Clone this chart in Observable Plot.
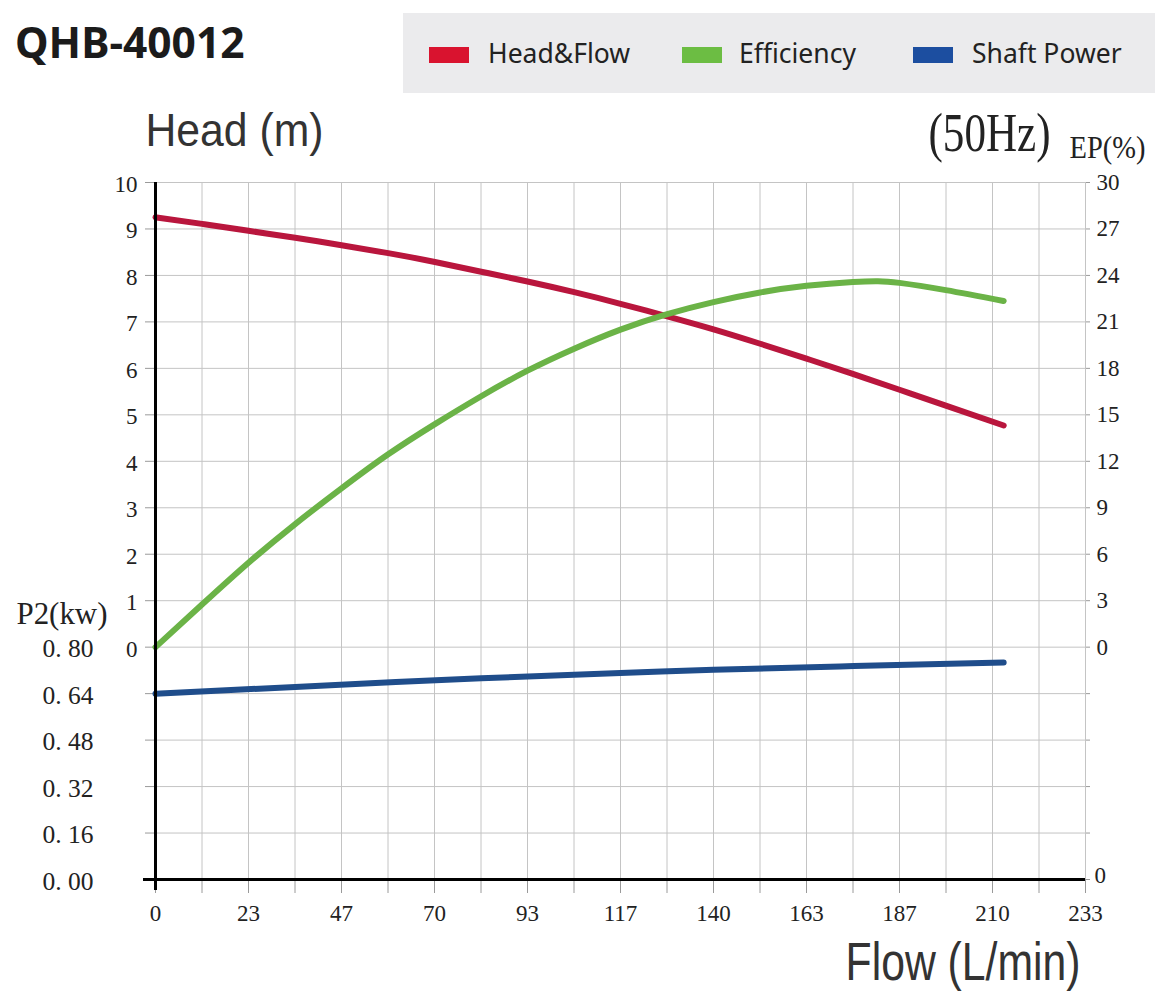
<!DOCTYPE html>
<html>
<head>
<meta charset="utf-8">
<script src="https://cdn.jsdelivr.net/npm/d3@7"></script>
<script src="https://cdn.jsdelivr.net/npm/@observablehq/plot@0.6"></script>
<style>
  html, body { margin: 0; padding: 0; background: #fff; width: 1161px; height: 1000px; overflow: hidden; }
  #header { position: relative; width: 1161px; height: 100px; }
  #title { position: absolute; left: 15px; top: 21px; font: 700 42.5px/42px "Noto Sans", sans-serif; color: #1b1b1b; white-space: nowrap; }
  #legend { position: absolute; left: 403px; top: 13px; width: 752px; height: 80px; background: #ebebed; }
  .sw { position: absolute; top: 34px; width: 40px; height: 16px; }
  .lt { position: absolute; top: 27px; font: 400 26.5px/26.5px "Noto Sans", sans-serif; color: #222; white-space: nowrap; }
  svg { display: block; }
</style>
</head>
<body>
<div id="header"><div id="title"></div><div id="legend"></div></div>
<div id="chart"></div>
<script>
// ---------- data ----------
const chartTitle = "QHB-40012";
const seriesNames = ["Head&Flow", "Efficiency", "Shaft Power"];

// Head & Flow curve (Flow L/min, Head m)
const headFlow = [0, 11.65, 23.3, 35, 46.6, 58.3, 70, 81.6, 93.2, 104.9, 116.5, 128.2, 139.8, 151.5, 163.1, 174.7, 186.4, 198, 212.5];
const headValues = [9.25, 9.11, 8.96, 8.81, 8.65, 8.48, 8.29, 8.08, 7.87, 7.64, 7.39, 7.12, 6.84, 6.53, 6.21, 5.88, 5.54, 5.2, 4.77];

// Efficiency curve (Flow L/min, EP %)
const effFlow = [0, 11.65, 23.3, 35, 46.6, 58.3, 70, 81.6, 93.2, 104.9, 116.5, 128.2, 139.8, 151.5, 163.1, 174.7, 181, 186.4, 198, 212.5];
const effValues = [0, 2.75, 5.45, 7.95, 10.25, 12.45, 14.4, 16.2, 17.85, 19.27, 20.5, 21.5, 22.28, 22.9, 23.33, 23.58, 23.63, 23.52, 23.05, 22.35];

// Shaft power curve (Flow L/min, P2 kW)
const powFlow = [0, 35, 81.6, 116.5, 139.8, 175, 212.5];
const powValues = [0.64, 0.663, 0.693, 0.711, 0.722, 0.735, 0.747];

// axes / tick labels
const flowTickPos = [0, 23.3, 46.6, 69.9, 93.2, 116.5, 139.8, 163.1, 186.4, 209.7, 233];
const flowTickLabels = ["0", "23", "47", "70", "93", "117", "140", "163", "187", "210", "233"];
const headTicks = [0, 1, 2, 3, 4, 5, 6, 7, 8, 9, 10];
const epTicks = [0, 3, 6, 9, 12, 15, 18, 21, 24, 27, 30];
const kwTicks = [0.00, 0.16, 0.32, 0.48, 0.64, 0.80];
const kwBaseRightLabel = [0];

// ---------- styles ----------
const COLORS = { head: "#b9163d", eff: "#6bb347", pow: "#1f4d8b" };
const LEGEND_COLORS = ["#d9132f", "#6cbd43", "#1c4ea0"];
const GRID = "#c4c4c4";
const SERIF = "'Liberation Serif', 'Times New Roman', serif";
const SANS = "'Liberation Sans', Arial, sans-serif";

// ---------- header ----------
document.getElementById("title").textContent = chartTitle;
const legend = d3.select("#legend");
const swLeft = [26, 279, 510];
const txtLeft = [85, 336, 569];
seriesNames.forEach((name, i) => {
  legend.append("div").attr("class", "sw").style("left", swLeft[i] + "px").style("background", LEGEND_COLORS[i]);
  legend.append("div").attr("class", "lt").style("left", txtLeft[i] + "px").text(name);
});

// ---------- scale mapping into a shared vertical frame (head metres) ----------
const epToY = v => v / 3;             // 30 % <-> 10 m
const kwToY = v => (v - 0.8) / 0.16;  // 0.80 kW <-> 0 m, 0.00 kW <-> -5

const headRows = headFlow.map((f, i) => ({ flow: f, head: headValues[i] }));
const effRows = effFlow.map((f, i) => ({ flow: f, ep: effValues[i] }));
const powRows = powFlow.map((f, i) => ({ flow: f, kw: powValues[i] }));

const xGrid = d3.range(0, 21).map(i => i * 233 / 20);
const yGrid = d3.range(-5, 11);

const chart = Plot.plot({
  width: 1161,
  height: 900,
  marginLeft: 155,
  marginRight: 76,
  marginTop: 82,
  marginBottom: 121,
  x: { domain: [0, 233], label: null },
  y: { domain: [-5, 10], label: null },
  style: { background: "white", overflow: "visible", color: "#222" },
  marks: [
    Plot.ruleX(xGrid, { stroke: GRID, strokeWidth: 1 }),
    Plot.ruleY(yGrid, { stroke: GRID, strokeWidth: 1 }),
    Plot.axisY(yGrid, { anchor: "left", tickSize: 10, tickFormat: () => "", stroke: "#9a9a9a", label: null }),
    Plot.axisY(yGrid, { anchor: "right", tickSize: 4, tickFormat: () => "", stroke: "#9a9a9a", label: null }),
    Plot.axisX(xGrid, { anchor: "bottom", tickSize: 14, tickFormat: () => "", stroke: "#9a9a9a", label: null }),

    // tick labels
    Plot.text(headTicks, { y: d => d, frameAnchor: "left", dx: -18, dy: 2, textAnchor: "end", text: d => String(d), fontSize: 23, fontFamily: SERIF, fill: "#222" }),
    Plot.text(kwTicks, { y: kwToY, frameAnchor: "left", dx: -62, dy: 2, textAnchor: "end", text: d => d.toFixed(2).replace(".", ". "), fontSize: 25.5, fontFamily: SERIF, fill: "#222" }),
    Plot.text(epTicks, { y: epToY, frameAnchor: "right", dx: 11, dy: 0, textAnchor: "start", text: d => String(d), fontSize: 23, fontFamily: SERIF, fill: "#222" }),
    Plot.text(kwBaseRightLabel, { y: kwToY, frameAnchor: "right", dx: 9, dy: -4, textAnchor: "start", text: d => String(d), fontSize: 23, fontFamily: SERIF, fill: "#222" }),
    Plot.text(flowTickLabels, { x: (d, i) => flowTickPos[i], frameAnchor: "bottom", dy: 25, lineAnchor: "top", text: d => d, fontSize: 23, fontFamily: SERIF, fill: "#222" }),

    // axis titles
    Plot.text(["Head (m)"], { frameAnchor: "top-left", dx: -10, dy: -37, textAnchor: "start", lineAnchor: "bottom", text: d => d, fontSize: 47, fontFamily: SANS, fill: "#333" }),
    Plot.text(["(50Hz)"], { frameAnchor: "top-right", dx: -35, dy: -32, textAnchor: "end", lineAnchor: "bottom", text: d => d, fontSize: 54, fontFamily: SERIF, fill: "#222" }),
    Plot.text(["EP(%)"], { frameAnchor: "top-right", dx: -16, dy: -25, textAnchor: "start", lineAnchor: "bottom", text: d => d, fontSize: 31, fontFamily: SERIF, fill: "#222" }),
    Plot.text(["P2(kw)"], { frameAnchor: "left", dx: -139, dy: 92.5, textAnchor: "start", lineAnchor: "bottom", text: d => d, fontSize: 31, fontFamily: SERIF, fill: "#222" }),
    Plot.text(["Flow (L/min)"], { frameAnchor: "bottom-right", dx: -5, dy: 100, textAnchor: "end", lineAnchor: "bottom", text: d => d, fontSize: 53, fontFamily: SANS, fill: "#333" }),

    // curves
    Plot.line(headRows, { x: "flow", y: "head", stroke: COLORS.head, strokeWidth: 6, curve: "natural", strokeLinecap: "round" }),
    Plot.line(effRows, { x: "flow", y: d => epToY(d.ep), stroke: COLORS.eff, strokeWidth: 6, curve: "natural", strokeLinecap: "round" }),
    Plot.line(powRows, { x: "flow", y: d => kwToY(d.kw), stroke: COLORS.pow, strokeWidth: 6, curve: "natural", strokeLinecap: "round" }),

    // black axes
    Plot.ruleX([0], { stroke: "#000", strokeWidth: 3, insetBottom: -11 }),
    Plot.ruleY([-5], { stroke: "#000", strokeWidth: 3, insetLeft: -12 })
  ]
});

document.getElementById("chart").appendChild(chart);

// condensed widths for the big titles (horizontal scale around the text anchor)
const fits = { "Head (m)": 178, "(50Hz)": 122, "EP(%)": 76, "P2(kw)": 91, "Flow (L/min)": 235 };
const SVGNS = "http://www.w3.org/2000/svg";
d3.select(chart).selectAll("text").each(function () {
  const t = this.textContent;
  if (!fits[t]) return;
  const bb = this.getBBox();
  const anchor = window.getComputedStyle(this).textAnchor;
  const local = anchor === "end" ? bb.x + bb.width : anchor === "middle" ? bb.x + bb.width / 2 : bb.x;
  const tf = this.transform && this.transform.baseVal ? this.transform.baseVal.consolidate() : null;
  const ax = (tf ? tf.matrix.e : 0) + local;
  const s = fits[t] / bb.width;
  const g = document.createElementNS(SVGNS, "g");
  g.setAttribute("transform", `translate(${ax},0) scale(${s},1) translate(${-ax},0)`);
  this.parentNode.insertBefore(g, this);
  g.appendChild(this);
});
</script>
</body>
</html>
